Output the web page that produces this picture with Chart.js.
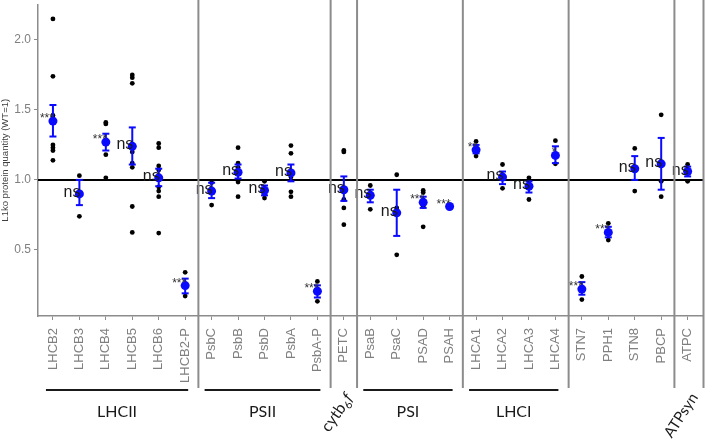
<!DOCTYPE html>
<html>
<head>
<meta charset="utf-8">
<script src="https://cdn.jsdelivr.net/npm/chart.js@4.4.0/dist/chart.umd.min.js"></script>
<style>
  html, body { margin: 0; padding: 0; background: #fff; }
  canvas { display: block; }
</style>
</head>
<body>
<canvas id="chart" width="708" height="439"></canvas>
<script>
// proteins on the x axis
const proteins = ['LHCB2', 'LHCB3', 'LHCB4', 'LHCB5', 'LHCB6', 'LHCB2-P',
  'PsbC', 'PsbB', 'PsbD', 'PsbA', 'PsbA-P', 'PETC',
  'PsaB', 'PsaC', 'PSAD', 'PSAH', 'LHCA1', 'LHCA2', 'LHCA3', 'LHCA4',
  'STN7', 'PPH1', 'STN8', 'PBCP', 'ATPC'];

// mean and error bar ends (L1ko / WT)
const means   = [1.42, 0.90, 1.27, 1.24, 1.015, 0.245, 0.92, 1.055, 0.925, 1.05, 0.205, 0.93,
  0.89, 0.765, 0.84, 0.81, 1.215, 1.02, 0.955, 1.175, 0.22, 0.625, 1.08, 1.115, 1.06];
const errLow  = [1.31, 0.82, 1.21, 1.11, 0.955, 0.19, 0.87, 1.01, 0.89, 0.99, 0.16, 0.85,
  0.84, 0.60, 0.80, 0.805, 1.19, 0.97, 0.91, 1.12, 0.18, 0.59, 1.00, 0.93, 1.025];
const errHigh = [1.535, 1.00, 1.33, 1.375, 1.08, 0.295, 0.98, 1.11, 0.96, 1.11, 0.247, 1.025,
  0.93, 0.93, 0.88, 0.815, 1.25, 1.06, 0.99, 1.24, 0.27, 0.665, 1.17, 1.30, 1.095];

// individual replicates
const replicates = [
  [2.15, 1.74, 1.46, 1.25, 1.23, 1.21, 1.14],
  [1.03, 0.74],
  [1.41, 1.40, 1.18, 1.015],
  [1.75, 1.73, 1.69, 1.20, 1.12, 1.09, 0.81, 0.625],
  [1.26, 1.23, 1.10, 1.07, 0.95, 0.92, 0.88, 0.62],
  [0.34, 0.17],
  [0.98, 0.82],
  [1.23, 1.12, 1.09, 0.985, 0.88],
  [0.99, 0.90, 0.87],
  [1.245, 1.19, 1.02, 0.915, 0.88],
  [0.275, 0.133],
  [1.21, 1.20, 0.86, 0.80, 0.68],
  [0.96, 0.79],
  [1.037, 0.80, 0.465],
  [0.925, 0.91, 0.81, 0.665],
  [0.82, 0.80],
  [1.275, 1.17],
  [1.11, 0.94],
  [1.015, 0.86],
  [1.28, 1.115],
  [0.31, 0.145],
  [0.69, 0.57],
  [1.225, 0.92],
  [1.465, 0.99, 0.88],
  [1.11, 0.99]
];

// significance marks
const sig = ['***', 'ns', '***', 'ns', 'ns', '***', 'ns', 'ns', 'ns', 'ns', '***', 'ns',
  'ns', 'ns', '***', '***', '**', 'ns', 'ns', '*', '***', '***', 'ns', 'ns', 'ns'];

// complexes: first and last protein index
const groups = [
  { name: 'LHCII', from: 0, to: 5 },
  { name: 'PSII', from: 6, to: 10 },
  { name: 'cytb6f', from: 11, to: 11 },
  { name: 'PSI', from: 12, to: 15 },
  { name: 'LHCI', from: 16, to: 19 },
  { name: '', from: 20, to: 23 },
  { name: 'ATPsyn', from: 24, to: 24 }
];

const yTicks = [0.5, 1.0, 1.5, 2.0];

const GRAY = '#8c8c8c';
const BLUE = '#0a0aff';

function line(ctx, x1, y1, x2, y2) {
  ctx.beginPath();
  ctx.moveTo(x1, y1);
  ctx.lineTo(x2, y2);
  ctx.stroke();
}

const extras = {
  id: 'extras',
  beforeDatasetsDraw(chart) {
    const { ctx, chartArea: a, scales: { y } } = chart;
    ctx.save();
    ctx.strokeStyle = '#000';
    ctx.lineWidth = 2;
    const y1 = y.getPixelForValue(1);
    line(ctx, a.left, y1, a.right, y1);
    ctx.restore();
  },
  afterDatasetsDraw(chart) {
    const { ctx, scales: { x, y } } = chart;
    ctx.save();
    // error bars
    ctx.strokeStyle = BLUE;
    ctx.lineWidth = 2;
    means.forEach((m, i) => {
      const px = x.getPixelForValue(i);
      const lo = y.getPixelForValue(errLow[i]);
      const hi = y.getPixelForValue(errHigh[i]);
      line(ctx, px, lo, px, hi);
      line(ctx, px - 3.5, lo, px + 3.5, lo);
      line(ctx, px - 3.5, hi, px + 3.5, hi);
    });
    // significance marks, left of the mean
    ctx.textAlign = 'right';
    ctx.textBaseline = 'alphabetic';
    sig.forEach((s, i) => {
      const px = x.getPixelForValue(i) + 1;
      const py = y.getPixelForValue(means[i]);
      if (s === 'ns') {
        ctx.fillStyle = '#1a1a1a';
        ctx.font = '16px "Liberation Sans", Arial, sans-serif';
        ctx.fillText(s, px, py + 3);
      } else {
        ctx.fillStyle = '#333';
        ctx.font = '12px "Liberation Sans", Arial, sans-serif';
        ctx.fillText(s, px, py + 1);
      }
    });
    ctx.restore();
  },
  afterDraw(chart) {
    const { ctx, chartArea: a, scales: { x } } = chart;
    ctx.save();
    // separators between complexes
    ctx.strokeStyle = GRAY;
    ctx.lineWidth = 2;
    groups.forEach((g, k) => {
      const sx = k === groups.length - 1 ? a.right : x.getPixelForValue(g.to + 0.5);
      line(ctx, sx, 0, sx, 388);
    });
    // underlines and names
    ctx.strokeStyle = '#1a1a1a';
    ctx.fillStyle = '#1a1a1a';
    ctx.font = '16px Lato, sans-serif';
    ctx.textAlign = 'center';
    ctx.textBaseline = 'middle';
    groups.forEach(g => {
      if (!g.name || g.from === g.to) return;
      const x1 = x.getPixelForValue(g.from) - 7;
      const x2 = x.getPixelForValue(g.to) + 3;
      line(ctx, x1, 390, x2, 390);
      ctx.fillText(g.name, (x1 + x2) / 2, 412);
    });
    // rotated single-protein complexes
    groups.forEach(g => {
      if (!g.name || g.from !== g.to) return;
      const px = x.getPixelForValue(g.from);
      ctx.save();
      ctx.textAlign = 'left';
      ctx.textBaseline = 'middle';
      if (g.name === 'cytb6f') {
        ctx.translate(px - 19, 430);
        ctx.rotate(-55 * Math.PI / 180);
        ctx.font = '16px Lato, sans-serif';
        ctx.fillText('cytb', 0, 0);
        let w = ctx.measureText('cytb').width;
        ctx.font = '11px Lato, sans-serif';
        ctx.fillText('6', w, 5);
        w += ctx.measureText('6').width;
        ctx.font = 'italic 16px Lato, sans-serif';
        ctx.fillText('f', w + 0.5, 0);
      } else {
        ctx.translate(px - 20, 436);
        ctx.rotate(-57 * Math.PI / 180);
        ctx.font = '15px Lato, sans-serif';
        ctx.fillText(g.name, 0, 0);
      }
      ctx.restore();
    });
    ctx.restore();
  }
};

const ctx = document.getElementById('chart').getContext('2d');
const chart = new Chart(ctx, {
  type: 'scatter',
  data: {
    datasets: [
      {
        label: 'mean',
        data: means.map((m, i) => ({ x: i, y: m })),
        backgroundColor: BLUE,
        borderColor: BLUE,
        pointRadius: 4.5,
        borderWidth: 0
      },
      {
        label: 'replicates',
        data: replicates.flatMap((vals, i) => vals.map(v => ({ x: i, y: v }))),
        backgroundColor: '#000',
        borderColor: '#000',
        pointRadius: 2.4,
        borderWidth: 0
      }
    ]
  },
  options: {
    responsive: false,
    animation: false,
    layout: { padding: { top: 0, right: 2, left: 0, bottom: 0 } },
    plugins: { legend: { display: false }, tooltip: { enabled: false } },
    scales: {
      x: {
        type: 'linear',
        min: -0.565,
        max: 24.6,
        afterBuildTicks: s => { s.ticks = proteins.map((p, i) => ({ value: i })); },
        afterFit: s => { s.height = 123; s.paddingLeft = 0; s.paddingRight = 0; },
        ticks: {
          autoSkip: false,
          minRotation: 90,
          maxRotation: 90,
          padding: 8,
          color: '#7f7f7f',
          font: { family: '"Liberation Sans", Arial, sans-serif', size: 13 },
          callback: v => proteins[v]
        },
        grid: { drawOnChartArea: false, tickLength: 4, color: GRAY },
        border: { color: GRAY, width: 1.5 }
      },
      y: {
        min: 0.028,
        max: 2.253,
        afterBuildTicks: s => { s.ticks = yTicks.map(v => ({ value: v })); },
        afterFit: s => { s.width = 38; s.paddingTop = 0; s.paddingBottom = 0; },
        ticks: {
          padding: 3,
          color: '#7f7f7f',
          font: { family: '"Liberation Sans", Arial, sans-serif', size: 12 },
          callback: v => v.toFixed(1)
        },
        grid: { drawOnChartArea: false, tickLength: 4, color: GRAY },
        border: { color: GRAY, width: 1.5 },
        title: {
          display: true,
          text: 'L1ko protein quantity (WT=1)',
          color: '#404040',
          font: { family: '"Liberation Sans", Arial, sans-serif', size: 9.5 },
          padding: 0
        }
      }
    }
  },
  plugins: [extras]
});
</script>
</body>
</html>
